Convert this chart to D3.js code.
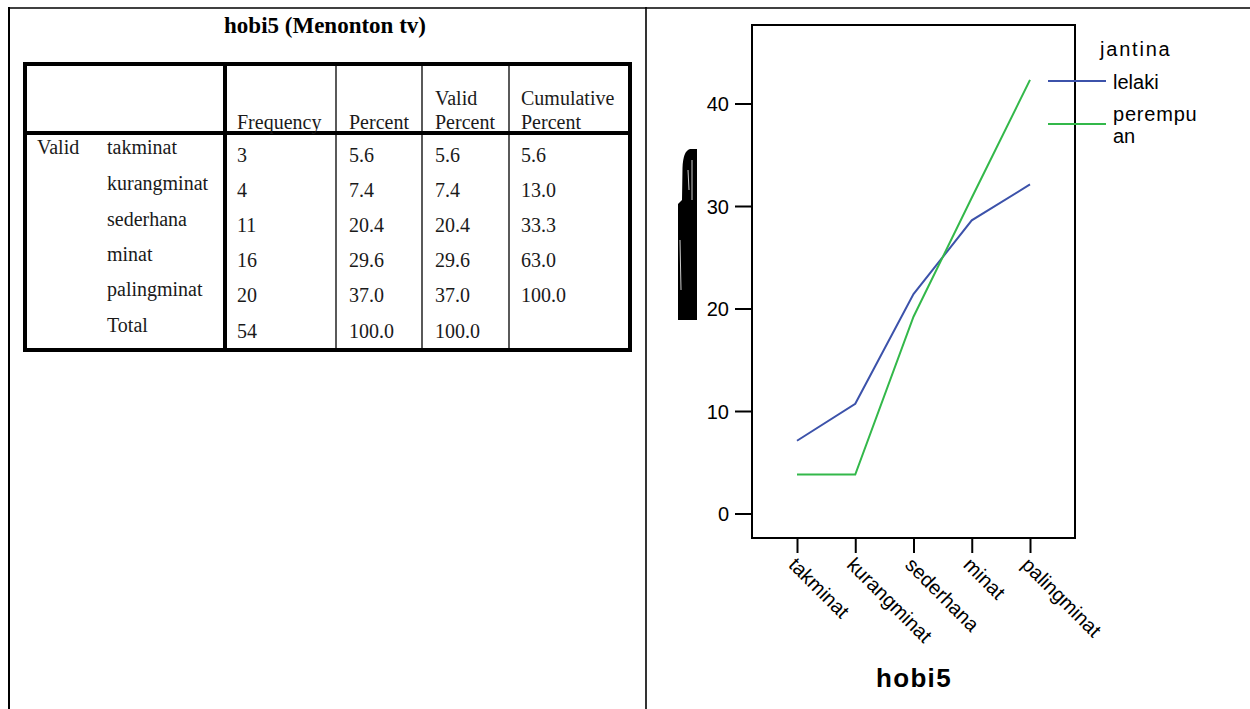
<!DOCTYPE html>
<html>
<head>
<meta charset="utf-8">
<script src="https://cdn.jsdelivr.net/npm/d3@7"></script>
<style>
  html, body { margin: 0; padding: 0; background: #fff; }
  svg { display: block; }
</style>
</head>
<body>
<svg id="c" width="1250" height="709"></svg>
<script>
// ---- data ----
const categories = ["takminat", "kurangminat", "sederhana", "minat", "palingminat"];
const lelaki = [7.1, 10.7, 21.4, 28.6, 32.1];
const perempuan = [3.8, 3.8, 19.2, 30.8, 42.3];
const yTicks = [0, 10, 20, 30, 40];
const seriesNames = ["lelaki", "perempuan"];
const legendTitle = "jantina";
const xTitle = "hobi5";

const tableTitle = "hobi5 (Menonton tv)";
const rowLabels = ["takminat", "kurangminat", "sederhana", "minat", "palingminat", "Total"];
const frequency = ["3", "4", "11", "16", "20", "54"];
const percent = ["5.6", "7.4", "20.4", "29.6", "37.0", "100.0"];
const validPercent = ["5.6", "7.4", "20.4", "29.6", "37.0", "100.0"];
const cumulativePercent = ["5.6", "13.0", "33.3", "63.0", "100.0", ""];
const headers = [["Frequency"], ["Percent"], ["Valid", "Percent"], ["Cumulative", "Percent"]];

const svg = d3.select("#c");

// ---- outer frame ----
svg.append("line").attr("x1", 8).attr("x2", 1250).attr("y1", 8).attr("y2", 8)
  .attr("stroke", "#000").attr("stroke-width", 1.6);
svg.append("line").attr("x1", 9).attr("x2", 9).attr("y1", 7).attr("y2", 709)
  .attr("stroke", "#000").attr("stroke-width", 2);
svg.append("line").attr("x1", 646).attr("x2", 646).attr("y1", 7).attr("y2", 709)
  .attr("stroke", "#000").attr("stroke-width", 1.6);

// ---- table ----
const serif = "'Liberation Serif', 'Times New Roman', serif";
svg.append("text").attr("x", 325).attr("y", 33).attr("text-anchor", "middle")
  .attr("font-family", serif).attr("font-weight", "bold").attr("font-size", 23)
  .text(tableTitle);

const T = { left: 25, right: 630, top: 64, bottom: 350, headBottom: 133 };
const colX = [225, 336, 422, 509];
const tb = svg.append("g");
tb.append("rect").attr("x", T.left).attr("y", T.top)
  .attr("width", T.right - T.left).attr("height", T.bottom - T.top)
  .attr("fill", "none").attr("stroke", "#000").attr("stroke-width", 4);
tb.append("line").attr("x1", T.left).attr("x2", T.right).attr("y1", T.headBottom).attr("y2", T.headBottom)
  .attr("stroke", "#000").attr("stroke-width", 4);
tb.append("line").attr("x1", colX[0]).attr("x2", colX[0]).attr("y1", T.top).attr("y2", T.bottom)
  .attr("stroke", "#000").attr("stroke-width", 4);
colX.slice(1).forEach(x => {
  tb.append("line").attr("x1", x).attr("x2", x).attr("y1", T.top).attr("y2", T.bottom)
    .attr("stroke", "#000").attr("stroke-width", 1.3);
});

const fs = 20;
const ink = "#1a1a1a";
const textX = [237, 349, 435, 521];
headers.forEach((h, i) => {
  h.forEach((line, j) => {
    tb.append("text").attr("x", textX[i]).attr("y", 129 - (h.length - 1 - j) * 24)
      .attr("font-family", serif).attr("font-size", fs).attr("fill", ink).text(line);
  });
});
tb.append("text").attr("x", 37).attr("y", 154).attr("font-family", serif)
  .attr("font-size", fs).attr("fill", ink).text("Valid");
const labelY = [154, 190, 226, 261, 296, 332];
const valY = [162, 197, 232, 267, 302, 338];
rowLabels.forEach((r, i) => {
  tb.append("text").attr("x", 107).attr("y", labelY[i]).attr("font-family", serif)
    .attr("font-size", fs).attr("fill", ink).text(r);
});
[frequency, percent, validPercent, cumulativePercent].forEach((col, c) => {
  col.forEach((v, i) => {
    tb.append("text").attr("x", textX[c]).attr("y", valY[i]).attr("font-family", serif)
      .attr("font-size", fs).attr("fill", ink).text(v);
  });
});

// ---- chart ----
const sans = "'Liberation Sans', Arial, sans-serif";
const F = { left: 752, right: 1075, top: 25, bottom: 538 };
const y = d3.scaleLinear().domain([0, 40]).range([513.5, 103.5]);
const x = d3.scalePoint().domain(categories).range([797, 1030]);

// y-axis label blob (garbled in the original)
svg.append("path")
  .attr("d", "M697,149 L690,149 Q683,151 682.5,168 L682,200 L678,204 L678,320 L697,320 Z")
  .attr("fill", "#000");
svg.append("path").attr("d", "M692,160 L692,200 M688,170 L689,190 M680,240 L681,290")
  .attr("stroke", "#fff").attr("stroke-width", 0.8).attr("fill", "none");

svg.append("rect").attr("x", F.left).attr("y", F.top)
  .attr("width", F.right - F.left).attr("height", F.bottom - F.top)
  .attr("fill", "none").attr("stroke", "#000").attr("stroke-width", 2);

const yAxis = svg.append("g").attr("transform", `translate(${F.left},0)`)
  .call(d3.axisLeft(y).tickValues(yTicks).tickSize(17).tickPadding(6).tickFormat(d3.format("d")));
yAxis.select(".domain").remove();
yAxis.selectAll(".tick line").attr("stroke", "#000").attr("stroke-width", 2);
yAxis.selectAll(".tick text").attr("font-family", sans).attr("font-size", 20).attr("fill", "#000")
  .attr("dy", "0.36em");

const xAxis = svg.append("g").attr("transform", `translate(0,${F.bottom})`)
  .call(d3.axisBottom(x).tickSize(15).tickPadding(0));
xAxis.select(".domain").remove();
xAxis.selectAll(".tick line").attr("stroke", "#000").attr("stroke-width", 2);
xAxis.selectAll(".tick text").attr("font-family", sans).attr("font-size", 20).attr("fill", "#000")
  .attr("text-anchor", "start").attr("dy", null).attr("y", 0)
  .attr("transform", "translate(-10,28) rotate(45)");

svg.append("text").attr("x", 914).attr("y", 687).attr("text-anchor", "middle")
  .attr("font-family", sans).attr("font-weight", "bold").attr("font-size", 26)
  .attr("letter-spacing", 1.3).text(xTitle);

const colors = ["#3C52AA", "#33B84A"];
const line = d3.line().x((d, i) => x(categories[i])).y(d => y(d));
[lelaki, perempuan].forEach((s, i) => {
  svg.append("path").datum(s).attr("d", line).attr("fill", "none")
    .attr("stroke", colors[i]).attr("stroke-width", 2);
});

// legend
svg.append("text").attr("x", 1100).attr("y", 56).attr("font-family", sans)
  .attr("font-size", 20).attr("letter-spacing", 1.8).text(legendTitle);
const legY = [81, 124];
const legLabels = [["lelaki"], ["perempu", "an"]];
const legTextY = [[89], [121, 143]];
seriesNames.forEach((n, i) => {
  svg.append("line").attr("x1", 1048).attr("x2", 1106).attr("y1", legY[i]).attr("y2", legY[i])
    .attr("stroke", colors[i]).attr("stroke-width", 2);
  legLabels[i].forEach((t, j) => {
    svg.append("text").attr("x", 1113).attr("y", legTextY[i][j])
      .attr("font-family", sans).attr("font-size", 20).attr("letter-spacing", i === 1 && j === 0 ? 0.8 : 0)
      .text(t);
  });
});
</script>
</body>
</html>
